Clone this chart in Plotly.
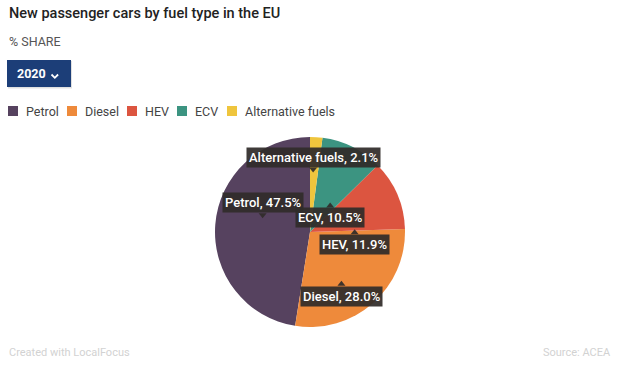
import math
import plotly.graph_objects as go

# ---------------- data ----------------
categories = ["Petrol", "Diesel", "HEV", "ECV", "Alternative fuels"]
shares = [47.5, 28.0, 11.9, 10.5, 2.1]
selected_year = "2020"

# ---------------- style ----------------
colors = ["#56425f", "#ee8a3b", "#dc5540", "#3c9481", "#efc53d"]
W, H = 620, 366
FONT = "Roboto"

PIE_CX, PIE_CY, PIE_R = 310, 232, 95          # pixel geometry of the pie
LABEL_RFRAC = 0.5                               # label anchor radius (fraction of r)
LABEL_NUDGE = [(0, -10), (0, 13), (1, 16), (-1, 13), (0, -12)]   # px nudge
LABEL_PTR = ["down", "up", "up", "up", "down"]  # pointer direction
LEGEND_TEXT_X = [24, 83, 143, 193, 243]         # px
LEGEND_Y = 111
BOX_BG = "rgba(48,44,42,0.93)"


def X(px):
    return px / W


def Y(py):
    return 1 - py / H


total = sum(shares)

fig = go.Figure()

fig.add_trace(go.Pie(
    labels=categories,
    values=shares,
    sort=False,
    direction="counterclockwise",
    rotation=-shares[0] / total * 360,   # first slice starts at 12 o'clock going left
    marker=dict(colors=colors, line=dict(width=0)),
    textinfo="none",
    hovertemplate="%{label}, %{value:.1f}%<extra></extra>",
    showlegend=False,
    domain=dict(x=[X(PIE_CX - PIE_R), X(PIE_CX + PIE_R)],
                y=[Y(PIE_CY + PIE_R), Y(PIE_CY - PIE_R)]),
))

annotations = []
shapes = []

# title / subtitle / footer
annotations.append(dict(text="New passenger cars by fuel type in the EU", x=X(7), y=Y(13.5),
                        xref="paper", yref="paper", xanchor="left", yanchor="middle",
                        showarrow=False, font=dict(family=FONT, size=14.5, color="#222222", weight=500)))
annotations.append(dict(text="% SHARE", x=X(7), y=Y(41),
                        xref="paper", yref="paper", xanchor="left", yanchor="middle",
                        showarrow=False, font=dict(family=FONT, size=12.5, color="#555555")))
annotations.append(dict(text="Created with LocalFocus", x=X(7), y=Y(352), xref="paper", yref="paper",
                        xanchor="left", yanchor="middle", showarrow=False,
                        font=dict(family=FONT, size=11, color="#d2d2d2")))
annotations.append(dict(text="Source: ACEA", x=X(613), y=Y(352), xref="paper", yref="paper",
                        xanchor="right", yanchor="middle", showarrow=False,
                        font=dict(family=FONT, size=11, color="#d2d2d2")))

# year selector (button look)
shapes.append(dict(type="rect", xref="paper", yref="paper",
                   x0=X(8), x1=X(72), y0=Y(88.5), y1=Y(61),
                   fillcolor="rgba(0,0,0,0.12)", line=dict(width=0)))
shapes.append(dict(type="rect", xref="paper", yref="paper",
                   x0=X(7), x1=X(71), y0=Y(87), y1=Y(60),
                   fillcolor="#1c3e78", line=dict(width=0)))
shapes.append(dict(type="path", xref="paper", yref="paper",
                   path=f"M {X(51.5)} {Y(74.5)} L {X(54.8)} {Y(77.8)} L {X(58.1)} {Y(74.5)}",
                   line=dict(color="white", width=1.8)))
annotations.append(dict(text=f"<b>{selected_year}</b>", x=X(15), y=Y(73.5), xref="paper", yref="paper",
                        xanchor="left", yanchor="middle", showarrow=False,
                        font=dict(family=FONT, size=12.5, color="white")))

# custom legend
for cat, col, tx in zip(categories, colors, LEGEND_TEXT_X):
    shapes.append(dict(type="rect", xref="paper", yref="paper",
                       x0=X(tx - 16), x1=X(tx - 6), y0=Y(LEGEND_Y + 5), y1=Y(LEGEND_Y - 5),
                       fillcolor=col, line=dict(width=0)))
    annotations.append(dict(text=cat, x=X(tx), y=Y(LEGEND_Y), xref="paper", yref="paper",
                            xanchor="left", yanchor="middle", showarrow=False,
                            font=dict(family=FONT, size=12.5, color="#444444")))

# data labels with pointer boxes
cum = 0.0
for cat, val, (nx, ny), ptr in zip(categories, shares, LABEL_NUDGE, LABEL_PTR):
    mid = (cum + val / 2) / total * 2 * math.pi
    cum += val
    ax = PIE_CX - math.sin(mid) * PIE_R * LABEL_RFRAC + nx
    ay = PIE_CY - math.cos(mid) * PIE_R * LABEL_RFRAC + ny
    if ptr == "down":
        by = ay - 5
        yanchor = "bottom"
    else:
        by = ay + 5
        yanchor = "top"
    tri = f"M {X(ax-4)} {Y(by)} L {X(ax+4)} {Y(by)} L {X(ax)} {Y(ay)} Z"
    shapes.append(dict(type="path", path=tri, xref="paper", yref="paper",
                       fillcolor=BOX_BG, line=dict(width=0)))
    annotations.append(dict(text=f"{cat}, {val:.1f}%", x=X(ax), y=Y(by),
                            xref="paper", yref="paper", xanchor="center", yanchor=yanchor,
                            showarrow=False, bgcolor=BOX_BG, borderpad=2,
                            font=dict(family=FONT, size=13, color="white", weight=500)))

fig.update_layout(
    width=W, height=H, autosize=False,
    margin=dict(l=0, r=0, t=0, b=0),
    paper_bgcolor="white", plot_bgcolor="white",
    showlegend=False,
    annotations=annotations,
    shapes=shapes,
)

fig.write_html("out.html", config={"displayModeBar": False},
               post_script="document.body.style.margin='0';")
